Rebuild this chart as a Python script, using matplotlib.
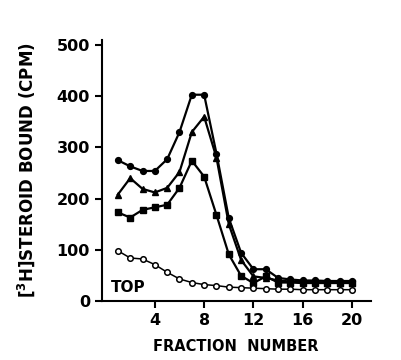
import matplotlib
matplotlib.use('Agg')
from matplotlib import pyplot as plt

fractions = list(range(1, 21))

# estimated from the figure (CPM)
closed_circles = [275, 263, 254, 254, 277, 330, 403, 403, 288, 162,
                  94, 62, 62, 45, 42, 40, 40, 39, 39, 39]
triangles = [208, 240, 219, 212, 221, 252, 330, 360, 280, 150,
             80, 48, 45, 40, 38, 37, 37, 36, 36, 36]
squares = [173, 163, 178, 183, 188, 221, 274, 243, 168, 91,
           49, 35, 48, 36, 36, 35, 35, 35, 35, 35]
open_circles = [98, 84, 82, 71, 56, 43, 36, 32, 30, 27,
                26, 25, 24, 23, 23, 22, 22, 22, 22, 22]

x_ticks = [4, 8, 12, 16, 20]
y_ticks = [0, 100, 200, 300, 400, 500]


def plot_profiles(ax):
    kw = dict(color='black', linewidth=1.6, markersize=4.2)
    ax.plot(fractions, closed_circles, marker='o', **kw)
    ax.plot(fractions, triangles, marker='^', **kw)
    ax.plot(fractions, squares, marker='s', **kw)
    ax.plot(fractions, open_circles, marker='o', markerfacecolor='white',
            markeredgewidth=1.1, color='black', linewidth=1.1, markersize=4)


def main():
    fig = plt.figure(figsize=(4.01, 3.6), dpi=100)
    ax = fig.add_axes([0.254, 0.164, 0.67, 0.725])
    plot_profiles(ax)

    ax.set_xlim(-0.3, 21.5)
    ax.set_ylim(0, 510)
    ax.spines['top'].set_visible(False)
    ax.spines['right'].set_visible(False)
    ax.spines['left'].set_linewidth(1.5)
    ax.spines['bottom'].set_linewidth(1.5)

    ax.set_xticks(x_ticks)
    ax.set_yticks(y_ticks)
    ax.tick_params(direction='out', length=5, width=1.5, labelsize=11.5)
    for lbl in ax.get_xticklabels() + ax.get_yticklabels():
        lbl.set_fontweight('semibold')

    ax.set_xlabel('FRACTION  NUMBER', fontsize=10.5, fontweight='bold', labelpad=8)
    ax.set_ylabel(r'[$^{\mathbf{3}}$H]STEROID BOUND (CPM)', fontsize=12,
                  fontweight='bold', labelpad=14)
    ax.text(0.4, 12, 'TOP', fontsize=11, fontweight='bold', ha='left', va='bottom')

    plt.savefig('out.png', dpi=100)


main()
